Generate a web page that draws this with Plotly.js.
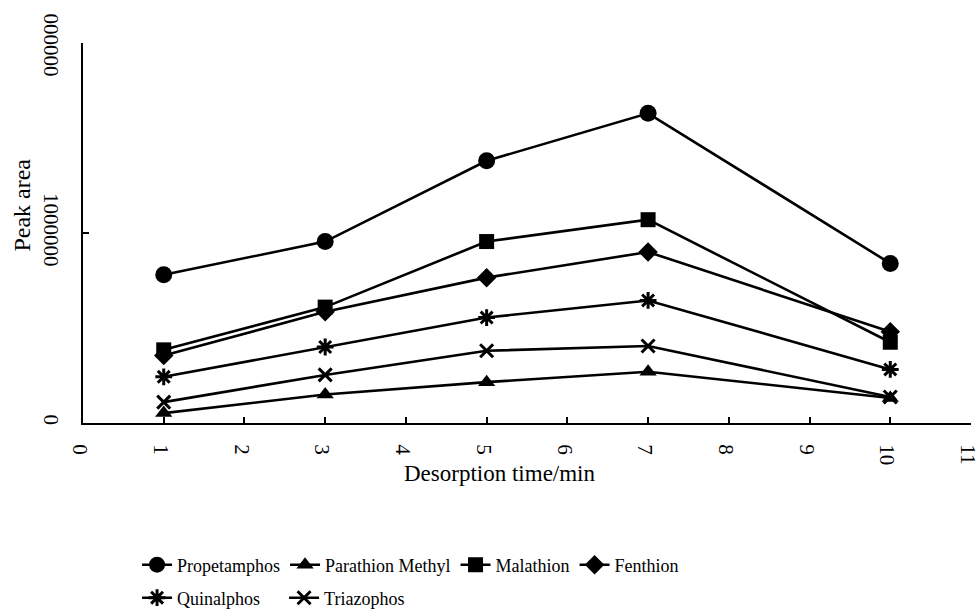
<!DOCTYPE html>
<html>
<head>
<meta charset="utf-8">
<script src="https://cdn.plot.ly/plotly-3.0.1.min.js"></script>
<style>html,body{margin:0;padding:0;background:#fff;}#chart{width:979px;height:612px;}</style>
</head>
<body>
<div id="chart"></div>
<script>
var desorptionTime = [1, 3, 5, 7, 10];
var propetamphos = [780000, 955000, 1380000, 1630000, 840000];
var parathionMethyl = [52000, 150000, 215000, 270000, 132000];
var malathion = [385000, 610000, 955000, 1070000, 425000];
var fenthion = [355000, 585000, 765000, 900000, 480000];
var quinalphos = [243000, 400000, 555000, 645000, 282000];
var triazophos = [110000, 253000, 380000, 405000, 137000];
var yTickVals = [0, 1000000, 2000000];
// the leading "2" of the top label is cut off by the top edge in the reference
var yTickText = ["0", "1000000", "<span style='color:rgba(0,0,0,0)'>2</span>000000"];

var FONT = "Liberation Serif, Times New Roman, serif";

function tr(name, y, symbol, size, legend) {
  var t = {
    x: desorptionTime, y: y, name: name, type: "scatter", mode: "lines+markers",
    line: {color: "#000", width: 2.6},
    marker: {symbol: symbol, size: size, color: "#000", line: {color: "#000", width: 0}},
    legend: legend
  };
  if (symbol.indexOf("open") >= 0) {
    t.marker.line.width = 3;
  }
  return t;
}

var data = [
  tr("Propetamphos", propetamphos, "circle", 17, "legend"),
  tr("Parathion Methyl", parathionMethyl, "triangle-up", 15, "legend"),
  tr("Malathion", malathion, "square", 15, "legend"),
  tr("Fenthion", fenthion, "diamond", 15, "legend"),
  tr("Quinalphos", quinalphos, "asterisk-open", 14, "legend2"),
  tr("Triazophos", triazophos, "x-thin-open", 13, "legend2")
];

var layout = {
  width: 979, height: 612,
  margin: {l: 83, r: 8, t: 43, b: 189},
  paper_bgcolor: "#fff", plot_bgcolor: "#fff",
  font: {family: FONT, size: 18, color: "#000"},
  showlegend: true,
  xaxis: {
    range: [0, 11], tickmode: "linear", tick0: 0, dtick: 1,
    showgrid: false, zeroline: false, showline: true, linecolor: "#000", linewidth: 2,
    ticks: "inside", ticklen: 6, tickwidth: 2, tickcolor: "#000",
    tickangle: 90, ticklabelstandoff: 15, ticklabelshift: -3, ticklabeloverflow: "allow",
    automargin: false,
    tickfont: {family: FONT, size: 21, color: "#000"}
  },
  yaxis: {
    range: [0, 2000000], tickmode: "array", tickvals: yTickVals, ticktext: yTickText,
    showgrid: false, zeroline: false, showline: true, linecolor: "#000", linewidth: 2,
    ticks: "inside", ticklen: 6, tickwidth: 2, tickcolor: "#000",
    tickangle: 90, ticklabelstandoff: 12, ticklabeloverflow: "allow",
    automargin: false,
    tickfont: {family: FONT, size: 21, color: "#000"}
  },
  legend: {
    orientation: "h", xref: "container", yref: "container",
    x: 0.14, xanchor: "left", y: 1 - 565 / 612, yanchor: "middle",
    font: {family: FONT, size: 18, color: "#000"}, bgcolor: "rgba(0,0,0,0)", traceorder: "normal"
  },
  legend2: {
    orientation: "h", xref: "container", yref: "container",
    x: 0.14, xanchor: "left", y: 1 - 598 / 612, yanchor: "middle",
    font: {family: FONT, size: 18, color: "#000"}, bgcolor: "rgba(0,0,0,0)", traceorder: "normal",
    entrywidth: 102, entrywidthmode: "pixels"
  },
  annotations: [
    {text: "Peak area", xref: "paper", yref: "paper", x: -0.069, y: 0.574, textangle: -90,
     showarrow: false, xanchor: "center", yanchor: "middle", font: {family: FONT, size: 24, color: "#000"}},
    {text: "Desorption time/min", xref: "paper", yref: "paper", x: 0.47, y: -0.134,
     showarrow: false, xanchor: "center", yanchor: "middle", font: {family: FONT, size: 23, color: "#000"}}
  ]
};

Plotly.newPlot("chart", data, layout, {displayModeBar: false, staticPlot: true});
</script>
</body>
</html>
